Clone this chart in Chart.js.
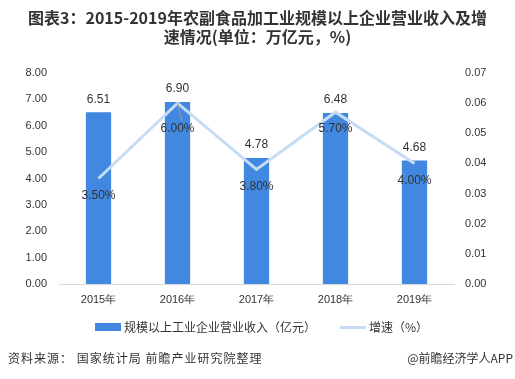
<!DOCTYPE html>
<html>
<head>
<meta charset="utf-8">
<script src="https://cdn.jsdelivr.net/npm/chart.js@4"></script>
<style>
  html, body { margin: 0; padding: 0; background: #fff; }
  body { width: 515px; height: 379px; position: relative; overflow: hidden;
         font-family: "Noto Sans CJK SC", "Liberation Sans", sans-serif; color: #333; }
  #title { position: absolute; left: 0; top: 8px; width: 515px; text-align: center;
           font-size: 16px; font-weight: bold; line-height: 19px; color: #333; }
  #wrap { position: absolute; left: 0; top: 0; width: 515px; height: 379px; }
  .legend { position: absolute; top: 318px; font-size: 12px; line-height: 18px; color: #333; display: flex; align-items: center; }
  .swatch { display: inline-block; width: 26px; margin-right: 3px; }
  #src { position: absolute; left: 8px; top: 349px; font-size: 12px; letter-spacing: 1px; line-height: 18px; }
  #app { position: absolute; right: 2px; top: 349px; font-size: 12px; line-height: 18px; }
</style>
</head>
<body>
<div id="wrap"><canvas id="chart" width="515" height="379"></canvas></div>
<div id="title">图表3：2015-2019年农副食品加工业规模以上企业营业收入及增<br>速情况(单位：万亿元，%)</div>
<div class="legend" style="left:95px;"><span class="swatch" style="height:8px;background:#4287e0;"></span>规模以上工业企业营业收入（亿元）</div>
<div class="legend" style="left:340px;"><span class="swatch" style="height:3px;background:#c6dcf5;"></span>增速（%）</div>
<div id="src">资料来源： 国家统计局 前瞻产业研究院整理</div>
<div id="app">@前瞻经济学人APP</div>
<script>
// Data
const years = ['2015年', '2016年', '2017年', '2018年', '2019年'];
const revenue = [6.51, 6.90, 4.78, 6.48, 4.68];
const growth = [0.035, 0.060, 0.038, 0.057, 0.040];

// label tweak for the line labels (px below the point)
const growthLabelShift = [17, 26, 17, 17, 17];

const labelPlugin = {
    id: 'valueLabels',
    afterDatasetsDraw(chart) {
        const ctx = chart.ctx;
        ctx.save();
        ctx.fillStyle = '#333';
        ctx.font = '12px "Liberation Sans", sans-serif';
        ctx.textAlign = 'center';
        ctx.textBaseline = 'middle';

        // bar values
        chart.getDatasetMeta(0).data.forEach((bar, i) => {
            ctx.fillText(revenue[i].toFixed(2), bar.x, bar.y - 13);
        });

        // growth values
        chart.getDatasetMeta(1).data.forEach((pt, i) => {
            const shift = growthLabelShift[i];
            if (shift > 17) {
                ctx.strokeStyle = '#999';
                ctx.lineWidth = 1;
                ctx.beginPath();
                ctx.moveTo(pt.x, pt.y);
                ctx.lineTo(pt.x + 4, pt.y + shift - 9);
                ctx.stroke();
            }
            ctx.fillText((growth[i] * 100).toFixed(2) + '%', pt.x, pt.y + shift);
        });
        ctx.restore();
    }
};

const tickFont = { family: '"Liberation Sans", sans-serif', size: 11 };

new Chart(document.getElementById('chart').getContext('2d'), {
    data: {
        labels: years,
        datasets: [
            {
                type: 'line',
                label: '增速（%）',
                data: growth,
                yAxisID: 'y1',
                borderColor: '#c6dcf5',
                borderWidth: 3,
                pointRadius: 0,
                tension: 0,
                order: 0
            },
            {
                type: 'bar',
                label: '规模以上工业企业营业收入（亿元）',
                data: revenue,
                yAxisID: 'y',
                backgroundColor: '#4287e0',
                categoryPercentage: 1,
                barPercentage: 0.32,
                order: 1
            }
        ].reverse()
    },
    options: {
        responsive: false,
        animation: false,
        layout: { padding: { top: 73, bottom: 65, left: 0, right: 0 } },
        plugins: {
            legend: { display: false },
            tooltip: { enabled: false }
        },
        scales: {
            x: {
                grid: { display: false, drawTicks: false },
                border: { color: '#d9d9d9' },
                ticks: { color: '#333', font: tickFont, padding: 9 },
                afterFit: s => { s.height = 30; }
            },
            y: {
                position: 'left',
                min: 0,
                max: 8,
                grid: { display: false, drawTicks: false },
                border: { display: false },
                ticks: { stepSize: 1, color: '#333', font: tickFont, padding: 12,
                         callback: v => v.toFixed(2) },
                afterFit: s => { s.width = 59; }
            },
            y1: {
                position: 'right',
                min: 0,
                max: 0.07,
                grid: { display: false, drawTicks: false },
                border: { display: false },
                ticks: { stepSize: 0.01, color: '#333', font: tickFont, padding: 11,
                         callback: v => v.toFixed(2) },
                afterFit: s => { s.width = 61; }
            }
        }
    },
    plugins: [labelPlugin]
});
</script>
</body>
</html>
